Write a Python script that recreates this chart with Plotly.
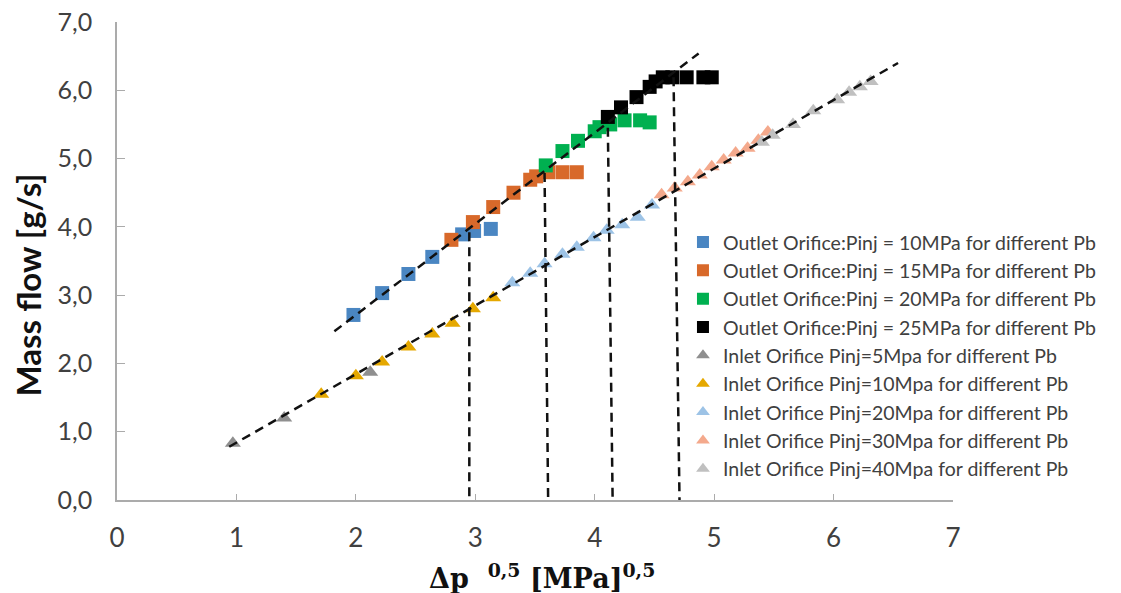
import plotly.graph_objects as go

# ---------------- data ----------------
names = [
    "Outlet Orifice:Pinj = 10MPa for different Pb",
    "Outlet Orifice:Pinj = 15MPa for different Pb",
    "Outlet Orifice:Pinj = 20MPa for different Pb",
    "Outlet Orifice:Pinj = 25MPa for different Pb",
    "Inlet Orifice Pinj=5Mpa for different Pb",
    "Inlet Orifice Pinj=10Mpa for different Pb",
    "Inlet Orifice Pinj=20Mpa for different Pb",
    "Inlet Orifice Pinj=30Mpa for different Pb",
    "Inlet Orifice Pinj=40Mpa for different Pb",
]

out10_x = [1.98, 2.22, 2.44, 2.64, 2.89, 2.99, 3.13]
out10_y = [2.71, 3.03, 3.31, 3.56, 3.89, 3.94, 3.97]

out15_x = [2.80, 2.98, 3.15, 3.32, 3.46, 3.51, 3.61, 3.73, 3.85]
out15_y = [3.81, 4.07, 4.29, 4.50, 4.69, 4.74, 4.80, 4.80, 4.80]

out20_x = [3.59, 3.73, 3.86, 4.00, 4.04, 4.13, 4.25, 4.38, 4.46]
out20_y = [4.90, 5.11, 5.26, 5.40, 5.46, 5.50, 5.56, 5.56, 5.53]

out25_x = [4.11, 4.22, 4.35, 4.46, 4.51, 4.57, 4.65, 4.77, 4.91, 4.98]
out25_y = [5.61, 5.75, 5.90, 6.05, 6.13, 6.19, 6.19, 6.19, 6.19, 6.19]

in5_x = [0.97, 1.40, 2.12]
in5_y = [0.83, 1.20, 1.87]

in10_x = [1.71, 2.00, 2.22, 2.44, 2.64, 2.81, 2.98, 3.15]
in10_y = [1.55, 1.82, 2.02, 2.24, 2.43, 2.59, 2.80, 2.96]

in20_x = [3.31, 3.46, 3.58, 3.73, 3.85, 3.99, 4.10, 4.23, 4.36, 4.48]
in20_y = [3.18, 3.32, 3.46, 3.60, 3.70, 3.84, 3.95, 4.03, 4.14, 4.32]

in30_x = [4.56, 4.67, 4.78, 4.88, 4.98, 5.08, 5.18, 5.28, 5.37, 5.45]
in30_y = [4.47, 4.57, 4.66, 4.76, 4.88, 4.98, 5.08, 5.15, 5.27, 5.39]

in40_x = [5.40, 5.49, 5.66, 5.83, 6.03, 6.13, 6.22, 6.31]
in40_y = [5.24, 5.34, 5.50, 5.70, 5.86, 5.97, 6.05, 6.13]

# fitted trend lines (end points)
fit_out_x = [1.82, 4.87]
fit_out_y = [2.47, 6.54]
fit_in_x = [0.94, 6.54]
fit_in_y = [0.78, 6.40]

# vertical choke markers (top x, bottom x, top y)
vert_top_x = [2.95, 3.58, 4.11, 4.66]
vert_bot_x = [2.95, 3.61, 4.15, 4.71]
vert_top_y = [3.92, 4.79, 5.45, 6.19]

x_ticks = [0, 1, 2, 3, 4, 5, 6, 7]
y_ticks = [0, 1, 2, 3, 4, 5, 6, 7]

x_title = "<b>Δp &nbsp;<sup>0,5</sup> [MPa]<sup>0,5</sup></b>"
y_title = "<b>Mass flow [g/s]</b>"

# ---------------- styles ----------------
series = [
    (out10_x, out10_y, "square", "#4A86C2"),
    (out15_x, out15_y, "square", "#D8692A"),
    (out20_x, out20_y, "square", "#00B050"),
    (out25_x, out25_y, "square", "#000000"),
    (in5_x, in5_y, "triangle-up", "#8F8F8F"),
    (in10_x, in10_y, "triangle-up", "#E5A800"),
    (in20_x, in20_y, "triangle-up", "#9DC3E6"),
    (in30_x, in30_y, "triangle-up", "#F4A98C"),
    (in40_x, in40_y, "triangle-up", "#C0C0C0"),
]

fig = go.Figure()
for (xs, ys, sym, col), nm in zip(series, names):
    fig.add_trace(go.Scatter(
        x=xs, y=ys, mode="markers", name=nm,
        marker=dict(symbol=sym, color=col, size=14 if sym == "square" else 14,
                    line=dict(width=0)),
    ))

dash_style = dict(color="#111111", width=2.5, dash="9px,6px")
fig.add_trace(go.Scatter(x=fit_out_x, y=fit_out_y, mode="lines",
                         line=dash_style, showlegend=False, hoverinfo="skip"))
fig.add_trace(go.Scatter(x=fit_in_x, y=fit_in_y, mode="lines",
                         line=dash_style, showlegend=False, hoverinfo="skip"))
for tx, bx, ty in zip(vert_top_x, vert_bot_x, vert_top_y):
    fig.add_trace(go.Scatter(x=[tx, bx], y=[ty, 0], mode="lines",
                             line=dash_style, showlegend=False, hoverinfo="skip"))

axis_col = "#ABABAB"
fig.update_layout(
    width=1121, height=593,
    margin=dict(l=109, r=176, t=14, b=101),
    paper_bgcolor="white", plot_bgcolor="white",
    separators=", ",
    font=dict(family="Lato, Carlito, Calibri, sans-serif", color="#404040"),
    showlegend=True,
    legend=dict(
        x=0.677, y=0.58, xanchor="left", yanchor="top",
        font=dict(size=19.5, color="#404040"),
        bgcolor="rgba(0,0,0,0)", itemsizing="constant",
        tracegroupgap=0,
    ),
    xaxis=dict(
        range=[0, 7], tickvals=x_ticks, tickformat="d",
        showgrid=False, zeroline=False, automargin=False,
        showline=True, linecolor=axis_col, linewidth=1.5,
        ticks="inside", ticklen=6, tickcolor=axis_col,
        tickfont=dict(size=26, color="#404040"),
        ticklabelstandoff=14, ticklabeloverflow="allow",
    ),
    yaxis=dict(
        range=[0, 7], tickvals=y_ticks, tickformat=".1f",
        showgrid=False, zeroline=False, automargin=False,
        showline=True, linecolor=axis_col, linewidth=1.5,
        ticks="inside", ticklen=8, tickcolor=axis_col,
        tickfont=dict(size=25, color="#404040"),
        ticklabelstandoff=18, ticklabeloverflow="allow",
    ),
    annotations=[
        dict(text=y_title, xref="paper", yref="paper",
             x=(27.5 - 117) / 836, y=0.45, xanchor="center", yanchor="middle",
             textangle=-90, showarrow=False,
             font=dict(size=33, color="#111111")),
        dict(text=x_title, xref="paper", yref="paper",
             x=0.508, y=(500 - 576) / 478, xanchor="center", yanchor="middle",
             showarrow=False,
             font=dict(family="DejaVu Serif, Liberation Serif, serif",
                       size=27, color="#111111")),
    ],
)

fig.write_html("out.html")
